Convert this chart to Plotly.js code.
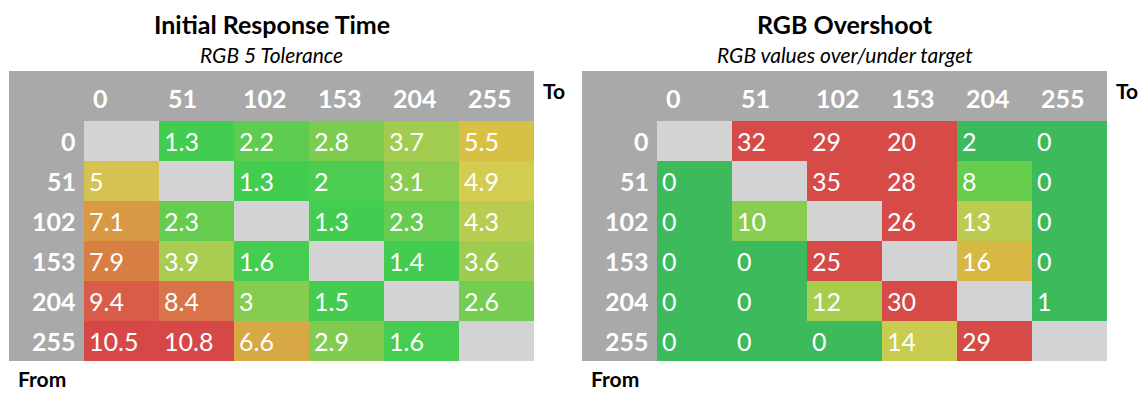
<!DOCTYPE html>
<html>
<head>
<meta charset="utf-8">
<script src="https://cdn.plot.ly/plotly-3.0.1.min.js"></script>
<style>html,body{margin:0;padding:0;background:#fff;}#chart{width:1146px;height:397px;}</style>
</head>
<body>
<div id="chart"></div>
<script>
// ---- data ----
var fromLabels = ['0', '51', '102', '153', '204', '255'];
var toLabels = ['0', '51', '102', '153', '204', '255'];

var responseTime = [
  [null, 1.3, 2.2, 2.8, 3.7, 5.5],
  [5, null, 1.3, 2, 3.1, 4.9],
  [7.1, 2.3, null, 1.3, 2.3, 4.3],
  [7.9, 3.9, 1.6, null, 1.4, 3.6],
  [9.4, 8.4, 3, 1.5, null, 2.6],
  [10.5, 10.8, 6.6, 2.9, 1.6, null]
];

var overshoot = [
  [null, 32, 29, 20, 2, 0],
  [0, null, 35, 28, 8, 0],
  [0, 10, null, 26, 13, 0],
  [0, 0, 25, null, 16, 0],
  [0, 0, 12, 30, null, 1],
  [0, 0, 0, 14, 29, null]
];

var titles = ['Initial Response Time', 'RGB Overshoot'];
var subtitles = ['RGB 5 Tolerance', 'RGB values over/under target'];

// ---- layout helpers ----
var W = 1146, H = 397;
function px(x) { return x / W; }
function py(y) { return 1 - y / H; }

var FONT = 'Lato, "Open Sans", sans-serif';
var BAND = '#a9a9a9';
var DIAG = '#d3d3d3';

var respScale = [
  [0.0, '#42cc50'], [0.074, '#4ccc50'], [0.105, '#66cc50'], [0.179, '#86cc50'],
  [0.284, '#aecc50'], [0.379, '#d2cc50'], [0.39, '#d6c250'], [0.442, '#d8c044'], [0.558, '#d8a844'],
  [0.611, '#d89844'], [0.695, '#d88044'], [0.747, '#d87448'], [0.853, '#d85c48'],
  [0.968, '#d64848'], [1.0, '#d64848']
];
var overScale = [
  [0.0, '#3cba5c'], [0.06, '#3cba5c'], [0.2286, '#66cc4c'], [0.2857, '#88cc50'],
  [0.343, '#a8cc4c'], [0.371, '#bccc50'], [0.4, '#c8cc50'], [0.457, '#d8b844'],
  [0.571, '#d64a48'], [1.0, '#d64a48']
];

var idx = toLabels.map(function (_, i) { return i; });
var panels = [
  { z: responseTime, cs: respScale, zmin: 1.3, zmax: 10.8, xa: 'x', ya: 'y', left: 9 },
  { z: overshoot, cs: overScale, zmin: 0, zmax: 35, xa: 'x2', ya: 'y2', left: 582 }
];

var data = [], annotations = [], shapes = [];
panels.forEach(function (p, k) {
  data.push({
    type: 'heatmap', z: p.z, x: idx, y: idx, xaxis: p.xa, yaxis: p.ya,
    colorscale: p.cs, zmin: p.zmin, zmax: p.zmax, showscale: false,
    hoverinfo: 'skip', xgap: 0, ygap: 0
  });
  var bandL = p.left, cellL = p.left + 75, bandR = p.left + 525;
  // gray header bands
  shapes.push({ type: 'rect', xref: 'paper', yref: 'paper', x0: px(bandL), x1: px(bandR),
    y0: py(121), y1: py(71), fillcolor: BAND, line: { width: 0 }, layer: 'below' });
  shapes.push({ type: 'rect', xref: 'paper', yref: 'paper', x0: px(bandL), x1: px(cellL),
    y0: py(361), y1: py(121), fillcolor: BAND, line: { width: 0 }, layer: 'below' });
  var center = (bandL + bandR) / 2;
  annotations.push({ xref: 'paper', yref: 'paper', x: px(center), y: py(24), text: '<b>' + titles[k] + '</b>',
    showarrow: false, xanchor: 'center', yanchor: 'middle', font: { family: FONT, size: 25, color: '#000' } });
  annotations.push({ xref: 'paper', yref: 'paper', x: px(center), y: py(54), text: '<i>' + subtitles[k] + '</i>',
    showarrow: false, xanchor: 'center', yanchor: 'middle', font: { family: FONT, size: 21, color: '#000' } });
  annotations.push({ xref: 'paper', yref: 'paper', x: px(bandR + 7), y: py(90), text: '<b>To</b>',
    showarrow: false, xanchor: 'left', yanchor: 'middle', font: { family: FONT, size: 21, color: '#000' } });
  annotations.push({ xref: 'paper', yref: 'paper', x: px(bandL + 7), y: py(378), text: '<b>From</b>',
    showarrow: false, xanchor: 'left', yanchor: 'middle', font: { family: FONT, size: 21, color: '#000' } });
  // column headers
  toLabels.forEach(function (lab, i) {
    annotations.push({ xref: p.xa, yref: 'paper', x: i - 0.5, xshift: 7, y: py(97.5), text: '<b>' + lab + '</b>',
      showarrow: false, xanchor: 'left', yanchor: 'middle', font: { family: FONT, size: 25, color: '#fff' } });
  });
  // row headers
  fromLabels.forEach(function (lab, j) {
    annotations.push({ xref: 'paper', yref: p.ya, x: px(cellL - 6), y: j, text: '<b>' + lab + '</b>',
      showarrow: false, xanchor: 'right', yanchor: 'middle', font: { family: FONT, size: 25, color: '#fff' } });
  });
  // cell values
  p.z.forEach(function (row, j) {
    row.forEach(function (v, i) {
      if (v === null) return;
      annotations.push({ xref: p.xa, yref: p.ya, x: i - 0.5, xshift: 3, y: j, text: String(v),
        showarrow: false, xanchor: 'left', yanchor: 'middle', font: { family: FONT, size: 25, color: '#fff' } });
    });
  });
});

function xax(l) {
  return { domain: [px(l + 75), px(l + 525)], range: [-0.5, 5.5], showgrid: false, zeroline: false,
    showticklabels: false, ticks: '', fixedrange: true };
}
function yax() {
  return { domain: [py(361), py(121)], range: [5.5, -0.5], showgrid: false, zeroline: false,
    showticklabels: false, ticks: '', fixedrange: true };
}

var layout = {
  width: W, height: H, margin: { l: 0, r: 0, t: 0, b: 0 },
  paper_bgcolor: '#ffffff', plot_bgcolor: DIAG, showlegend: false,
  xaxis: xax(9), yaxis: yax(),
  xaxis2: Object.assign(xax(582), { anchor: 'y2' }), yaxis2: Object.assign(yax(), { anchor: 'x2' }),
  shapes: shapes, annotations: annotations,
  font: { family: FONT }
};
layout.xaxis.anchor = 'y';
layout.yaxis.anchor = 'x';

Plotly.newPlot('chart', data, layout, { staticPlot: true, displayModeBar: false });
</script>
</body>
</html>
